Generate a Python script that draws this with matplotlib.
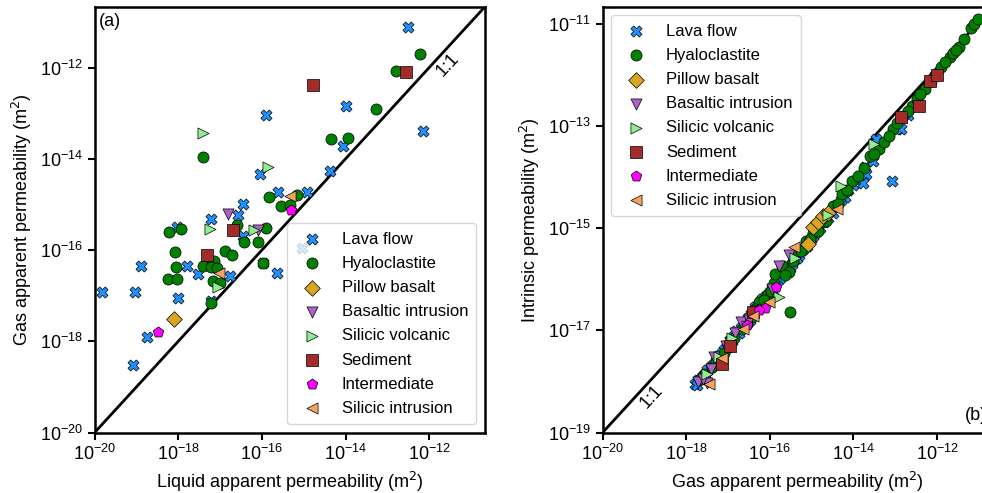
import matplotlib
matplotlib.use("Agg")
import matplotlib.pyplot as plt
import numpy as np

plt.rcParams['font.family'] = ['Liberation Sans', 'DejaVu Sans']
plt.rcParams['font.size'] = 13
plt.rcParams['axes.linewidth'] = 1.8
plt.rcParams['xtick.major.width'] = 1.5
plt.rcParams['ytick.major.width'] = 1.5
plt.rcParams['xtick.major.size'] = 5
plt.rcParams['ytick.major.size'] = 5

# rock types, marker styles and colours
labels = ["Lava flow", "Hyaloclastite", "Pillow basalt", "Basaltic intrusion",
          "Silicic volcanic", "Sediment", "Intermediate", "Silicic intrusion"]
markers = ["X", "o", "D", "v", ">", "s", "p", "<"]
colors = ["#1e90ff", "green", "goldenrod", "#ad62c6",
          "lightgreen", "brown", "magenta", "sandybrown"]

# (a) log10 liquid apparent vs log10 gas apparent permeability
liq_lava = [-15.91, -12.50, -14.00, -12.15, -14.05, -14.37, -16.05, -15.61, -14.93,
            -16.44, -16.56, -17.22, -16.44, -18.02, -17.78, -18.90, -17.54, -16.76,
            -15.97, -15.63, -19.83, -19.04, -18.01, -17.21, -18.76, -19.08, -15.05]
gas_lava = [-13.04, -11.10, -12.84, -13.38, -13.72, -14.26, -14.33, -14.72, -14.72,
            -15.00, -15.23, -15.31, -15.69, -15.50, -16.34, -16.34, -16.53, -16.57,
            -16.28, -16.51, -16.93, -16.93, -17.04, -17.12, -17.90, -18.52, -15.95]
liq_hyalo = [-12.22, -12.80, -13.26, -14.35, -13.95, -17.40, -15.17, -15.82, -15.55,
             -15.33, -16.60, -16.43, -15.91, -16.09, -18.23, -17.94, -18.08, -16.89,
             -16.72, -17.26, -17.15, -17.40, -17.22, -17.08, -18.06, -18.24, -18.02,
             -17.16, -17.00, -15.97, -17.22]
gas_hyalo = [-11.71, -12.07, -12.91, -13.57, -13.55, -13.95, -14.79, -14.84, -15.03,
             -15.01, -15.46, -15.82, -15.52, -15.83, -15.60, -15.54, -16.04, -16.01,
             -16.11, -16.27, -16.23, -16.35, -16.38, -16.40, -16.36, -16.63, -16.63,
             -16.68, -16.72, -16.28, -17.15]
liq_pillow = [-18.10]
gas_pillow = [-17.52]
liq_basint = [-16.80, -16.10]
gas_basint = [-15.21, -15.56]
liq_silvol = [-17.40, -15.86, -17.24, -16.19, -17.04]
gas_silvol = [-13.43, -14.18, -15.53, -15.56, -16.80]
liq_sed = [-12.55, -14.78, -16.70, -17.31]
gas_sed = [-12.10, -12.38, -15.57, -16.11]
liq_inter = [-15.30, -18.48]
gas_inter = [-15.13, -17.80]
liq_silint = [-15.33, -17.03]
gas_silint = [-14.81, -16.51]

# (b) log10 gas apparent vs log10 intrinsic permeability
gas_lava_b = [-17.80, -17.72, -17.60, -17.50, -17.42, -17.30, -17.22, -17.10, -17.02,
              -16.95, -16.85, -16.80, -16.70, -16.62, -16.52, -16.45, -16.38, -16.30,
              -16.22, -16.12, -16.05, -15.95, -15.88, -15.80, -15.70, -15.62, -15.52,
              -15.42, -15.35, -15.22, -15.12, -15.02, -14.92, -14.80, -14.62, -14.50,
              -14.30, -14.12, -13.92, -13.72, -13.45, -13.08, -12.95, -12.70,
              -17.75, -17.65, -17.55, -17.35, -17.25, -17.15, -16.90, -16.75, -16.58,
              -16.48, -16.35, -16.25, -16.18, -16.00, -15.92, -15.75, -15.66, -15.58,
              -15.47, -15.30, -15.18, -14.98, -14.70, -14.40, -14.20, -14.00, -13.85,
              -13.54, -13.71, -13.78, -12.86]
int_lava_b = [-18.05, -17.98, -17.90, -17.78, -17.72, -17.60, -17.55, -17.38, -17.32,
              -17.18, -17.12, -17.02, -16.95, -16.90, -16.75, -16.68, -16.62, -16.55,
              -16.42, -16.35, -16.30, -16.18, -16.10, -16.02, -15.92, -15.85, -15.78,
              -15.62, -15.58, -15.42, -15.35, -15.22, -15.10, -15.00, -14.80, -14.70,
              -14.45, -14.25, -14.05, -13.80, -13.25, -14.08, -13.05, -12.78,
              -18.07, -17.95, -17.85, -17.68, -17.50, -17.45, -17.20, -17.05, -16.85,
              -16.80, -16.55, -16.48, -16.38, -16.25, -16.22, -15.98, -15.80, -15.75,
              -15.70, -15.52, -15.38, -15.15, -14.88, -14.55, -14.38, -14.15, -13.98,
              -13.69, -13.94, -14.11, -13.05]
gas_hyalo_b = [-17.55, -17.39, -17.20, -16.98, -16.66, -16.43, -16.26, -16.07, -15.91,
               -15.87, -15.71, -15.55, -15.52, -15.32, -15.13, -14.96, -14.72, -14.60,
               -14.48, -14.27, -14.04, -13.76, -13.60, -13.40, -13.26, -13.05, -12.81,
               -12.61, -12.49, -12.29, -12.06, -11.90, -11.70, -11.62, -11.47, -11.35,
               -11.20, -11.11, -11.03,
               -17.68, -17.30, -17.10, -16.85, -16.55, -16.35, -16.15, -15.98, -15.65,
               -15.45, -15.25, -15.05, -14.85, -14.65, -14.38, -14.15, -13.90, -13.50,
               -13.15, -12.95, -12.70, -12.40, -12.15, -11.80, -11.55]
int_hyalo_b = [-17.86, -17.72, -17.52, -17.33, -16.98, -16.74, -16.44, -16.31, -16.08,
               -15.90, -15.75, -15.85, -16.64, -15.46, -15.26, -15.10, -14.87, -14.71,
               -14.57, -14.34, -14.08, -13.82, -13.59, -13.45, -13.32, -13.06, -12.80,
               -12.60, -12.47, -12.27, -12.01, -11.85, -11.65, -11.58, -11.45, -11.29,
               -11.09, -11.00, -10.90,
               -17.95, -17.62, -17.45, -17.15, -16.88, -16.58, -16.40, -16.22, -15.92,
               -15.65, -15.45, -15.22, -15.05, -14.85, -14.52, -14.25, -13.98, -13.55,
               -13.20, -12.95, -12.70, -12.38, -12.12, -11.75, -11.52]
gas_pillow_b = [-14.96, -14.84, -14.72, -15.10, -14.60]
int_pillow_b = [-14.98, -14.87, -14.77, -15.30, -14.70]
gas_basint_b = [-17.72, -17.51, -17.34, -16.84, -16.70, -15.78, -15.55,
                -17.60, -17.40, -17.05, -16.95, -16.50, -16.30, -15.95]
int_basint_b = [-18.02, -18.04, -17.52, -17.06, -16.83, -15.75, -15.52,
                -17.95, -17.75, -17.30, -17.25, -16.80, -16.62, -16.20]
gas_silvol_b = [-17.22, -15.78, -14.29, -13.50, -17.50, -16.90, -16.55, -15.40, -14.60]
int_silvol_b = [-17.52, -16.34, -14.18, -13.36, -17.85, -17.15, -16.92, -15.58, -14.75]
gas_sed_b = [-17.15, -12.87, -12.43, -12.16, -16.95, -16.40, -12.00]
int_sed_b = [-17.66, -12.83, -12.60, -12.11, -17.30, -16.65, -12.00]
gas_inter_b = [-16.12, -16.55, -16.25, -15.85]
int_inter_b = [-16.57, -16.90, -16.60, -16.15]
gas_silint_b = [-17.45, -16.03, -15.43, -17.15, -16.65, -16.40, -14.40]
int_silint_b = [-18.05, -16.44, -15.36, -17.55, -16.97, -16.72, -14.62]

data_a = [(liq_lava, gas_lava), (liq_hyalo, gas_hyalo), (liq_pillow, gas_pillow),
          (liq_basint, gas_basint), (liq_silvol, gas_silvol), (liq_sed, gas_sed),
          (liq_inter, gas_inter), (liq_silint, gas_silint)]
data_b = [(gas_lava_b, int_lava_b), (gas_hyalo_b, int_hyalo_b), (gas_pillow_b, int_pillow_b),
          (gas_basint_b, int_basint_b), (gas_silvol_b, int_silvol_b), (gas_sed_b, int_sed_b),
          (gas_inter_b, int_inter_b), (gas_silint_b, int_silint_b)]

fig = plt.figure(figsize=(9.82, 4.93), dpi=100)
ax1 = fig.add_axes([0.0964, 0.1227, 0.3972, 0.8631])
ax2 = fig.add_axes([0.6137, 0.1227, 0.3972, 0.8631])

lo_a, hi_a = 1e-20, 10 ** -10.67
lo_bx, lo_by, hi_b = 1e-20, 1e-19, 10 ** -10.67


def draw(ax, data):
    for (xs, ys), lab, m, c in zip(data, labels, markers, colors):
        ax.scatter(10.0 ** np.array(xs), 10.0 ** np.array(ys), s=64, marker=m,
                   c=c, edgecolors='k', linewidths=0.5, label=lab, zorder=3)


legend_kw = dict(fontsize=12, framealpha=0.8, borderpad=0.5, handlelength=2.0,
                 handletextpad=0.8, labelspacing=0.55)

draw(ax1, data_a)
ax1.plot([lo_a, hi_a], [lo_a, hi_a], color='k', lw=2, zorder=2)
ax1.set_xscale('log')
ax1.set_yscale('log')
ax1.set_xlim(lo_a, hi_a)
ax1.set_ylim(lo_a, hi_a)
ax1.set_xticks([1e-20, 1e-18, 1e-16, 1e-14, 1e-12])
ax1.set_yticks([1e-20, 1e-18, 1e-16, 1e-14, 1e-12])
ax1.minorticks_off()
ax1.set_xlabel("Liquid apparent permeability (m$^2$)")
ax1.set_ylabel("Gas apparent permeability (m$^2$)")
ax1.text(0.012, 0.985, "(a)", transform=ax1.transAxes, va='top', ha='left')
ax1.text(0.905, 0.865, "1:1", transform=ax1.transAxes, rotation=47,
         ha='center', va='center')
ax1.legend(loc='lower right', **legend_kw)

draw(ax2, data_b)
ax2.plot([lo_bx, hi_b], [lo_by, hi_b], color='k', lw=2, zorder=2)
ax2.set_xscale('log')
ax2.set_yscale('log')
ax2.set_xlim(lo_bx, hi_b)
ax2.set_ylim(lo_by, hi_b)
ax2.set_xticks([1e-20, 1e-18, 1e-16, 1e-14, 1e-12])
ax2.set_yticks([1e-19, 1e-17, 1e-15, 1e-13, 1e-11])
ax2.minorticks_off()
ax2.set_xlabel("Gas apparent permeability (m$^2$)")
ax2.set_ylabel("Intrinsic permeability (m$^2$)")
ax2.text(0.985, 0.02, "(b)", transform=ax2.transAxes, va='bottom', ha='right')
ax2.text(0.125, 0.085, "1:1", transform=ax2.transAxes, rotation=48,
         ha='center', va='center')
ax2.legend(loc='upper left', **legend_kw)

fig.savefig("out.png", dpi=100)
